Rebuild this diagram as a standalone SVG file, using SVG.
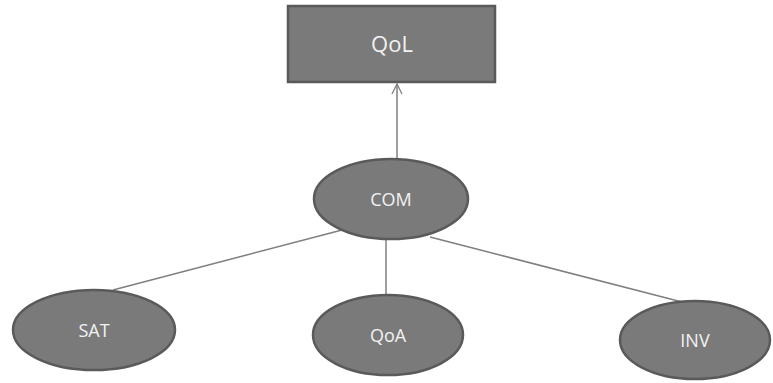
<svg xmlns="http://www.w3.org/2000/svg" width="773" height="383" viewBox="0 0 773 383">
<style>
.node{fill:#7a7a7a;stroke:#5a5a5a;stroke-width:2.5}
.lbl{fill:#f2f2f2;font-family:"Open Sans","Liberation Sans",sans-serif;text-anchor:middle;dominant-baseline:central}
.edge{stroke:#7f7f7f;stroke-width:1.5;fill:none}
</style>
<defs>
<marker id="arr" viewBox="0 0 12 12" refX="11" refY="6" markerWidth="12" markerHeight="12" markerUnits="userSpaceOnUse" orient="auto">
<path d="M1,1 L11,6 L1,11" fill="none" stroke="#7f7f7f" stroke-width="1.3"/>
</marker>
</defs>
<rect width="773" height="383" fill="#ffffff"/>
<g id="connectors">
<line class="edge" x1="397" y1="159" x2="397" y2="84" marker-end="url(#arr)"/>
<line class="edge" x1="342" y1="230" x2="113" y2="290"/>
<line class="edge" x1="386" y1="239" x2="386" y2="295"/>
<line class="edge" x1="430" y1="237" x2="682" y2="302"/>
</g>
<g id="QoL">
<rect class="node" x="288" y="6" width="207" height="76" stroke-width="3"/>
<text class="lbl" x="392" y="43" font-size="22">QoL</text>
</g>
<g id="COM">
<ellipse class="node" cx="391" cy="199" rx="77" ry="40"/>
<text class="lbl" x="391" y="199" font-size="18">COM</text>
</g>
<g id="SAT">
<ellipse class="node" cx="94" cy="330" rx="81" ry="40"/>
<text class="lbl" x="94" y="330" font-size="18">SAT</text>
</g>
<g id="QoA">
<ellipse class="node" cx="388" cy="335" rx="75" ry="40"/>
<text class="lbl" x="388" y="335" font-size="18">QoA</text>
</g>
<g id="INV">
<ellipse class="node" cx="695" cy="340" rx="75" ry="39"/>
<text class="lbl" x="695" y="340" font-size="18">INV</text>
</g>
</svg>
